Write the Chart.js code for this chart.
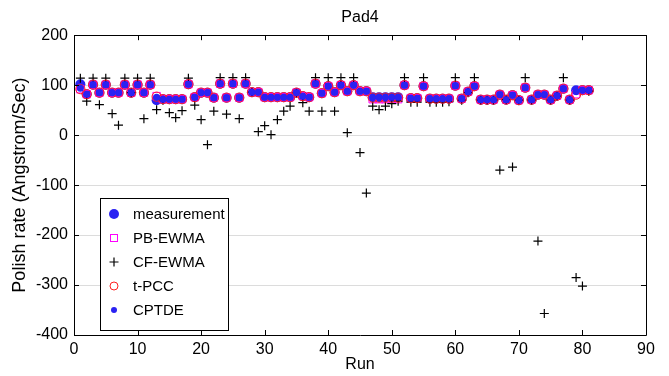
<!DOCTYPE html>
<html><head><meta charset="utf-8">
<script src="https://cdn.jsdelivr.net/npm/chart.js@4.4.0/dist/chart.umd.min.js"></script>
<style>html,body{margin:0;padding:0;background:#fff;}#wrap{width:669px;height:376px;position:relative;}</style>
</head><body><div id="wrap"><canvas id="c" width="669" height="376"></canvas></div>
<script>
const runs = [1,2,3,4,5,6,7,8,9,10,11,12,13,14,15,16,17,18,19,20,21,22,23,24,25,26,27,28,29,30,31,32,33,34,35,36,37,38,39,40,41,42,43,44,45,46,47,48,49,50,51,52,53,54,55,56,57,58,59,60,61,62,63,64,65,66,67,68,69,70,71,72,73,74,75,76,77,78,79,80,81];
const measurement = [102,82,101,85,101,85,85,101,85,101,85,101,70,72,72,72,72,102,76,85,85,75,103,75,103,75,103,86,86,76,76,76,76,76,85,78,76,103,84,98,86,100,88,100,88,88,76,76,76,76,76,100,74,74,98,73,73,73,73,99,73,87,98,71,71,71,81,71,80,70,95,71,81,81,71,79,93,71,90,90,90];
const pbEwma = [92,82,101,85,101,85,85,101,85,101,85,101,78,72,72,72,72,102,76,85,85,75,103,75,103,75,103,86,86,76,76,76,76,76,85,78,76,103,84,98,86,100,88,100,88,88,72,72,72,72,72,100,74,74,98,73,73,73,73,99,73,87,98,71,71,71,81,71,80,70,95,71,81,81,71,79,93,71,82,90,90];
const cfEwma = [114,68,114,61,114,43,20,114,85,114,33,114,51,70,45,35,49,114,60,31,-19,48,115,42,115,33,115,86,7,19,1,31,48,58,84,65,48,115,48,115,48,115,5,115,-35,-116,58,51,58,63,68,115,66,66,115,66,66,66,67,115,70,85,115,70,70,70,-70,71,-64,70,115,70,-212,-357,70,78,115,70,-285,-302,88];
const tPcc = [92,82,101,85,101,85,85,101,85,101,85,101,77,72,72,72,72,102,76,85,85,75,103,75,103,75,103,86,86,76,76,76,76,76,85,78,76,103,84,98,86,100,88,100,88,88,75,75,75,75,75,100,74,74,98,73,73,73,73,99,73,87,98,71,71,71,81,71,80,70,95,71,81,81,71,79,93,71,81,90,90];
const cptde = [94,82,101,85,101,85,85,101,85,101,85,101,76,72,72,72,72,102,76,85,85,75,103,75,103,75,103,86,86,76,76,76,76,76,85,78,76,103,84,98,86,100,88,100,88,88,76,76,76,76,76,100,74,74,98,73,73,73,73,99,73,87,98,71,71,71,81,71,80,70,95,71,81,81,71,79,93,71,88,90,90];
const xTicks = [0,10,20,30,40,50,60,70,80,90];
const yTicks = [200,100,0,-100,-200,-300,-400];
const seriesNames = ['measurement','PB-EWMA','CF-EWMA','t-PCC','CPTDE'];

const FONT = 'Liberation Sans, Arial, Helvetica, sans-serif';
function pts(vals){ return vals.map((v,i)=>({x: runs[i], y: v})); }

const BLUE = '#2a22f2', MAG = '#ff00ff', RED = '#ff2020';

const framePlugin = {
  id: 'frame',
  afterDraw(chart){
    const ctx = chart.ctx, a = chart.chartArea;
    const xs = chart.scales.x, ys = chart.scales.y;
    ctx.save();
    ctx.strokeStyle = '#000'; ctx.lineWidth = 1;
    ctx.beginPath();
    ctx.rect(Math.round(a.left)+0.5, Math.round(a.top)+0.5, Math.round(a.right-a.left), Math.round(a.bottom-a.top));
    ctx.stroke();
    const tl = 5;
    ctx.beginPath();
    xTicks.forEach(v=>{
      const px = Math.round(xs.getPixelForValue(v))+0.5;
      ctx.moveTo(px, a.bottom); ctx.lineTo(px, a.bottom-tl);
      ctx.moveTo(px, a.top); ctx.lineTo(px, a.top+tl);
    });
    yTicks.forEach(v=>{
      const py = Math.round(ys.getPixelForValue(v))+0.5;
      ctx.moveTo(a.left, py); ctx.lineTo(a.left+tl, py);
      ctx.moveTo(a.right, py); ctx.lineTo(a.right-tl, py);
    });
    ctx.stroke();
    ctx.restore();
  }
};

function drawMarker(ctx, kind, x, y){
  ctx.save();
  if (kind===0){ ctx.fillStyle=BLUE; ctx.beginPath(); ctx.arc(x,y,5,0,Math.PI*2); ctx.fill(); }
  else if (kind===1){ ctx.strokeStyle=MAG; ctx.lineWidth=1; ctx.strokeRect(x-3.5,y-3.5,7,7); }
  else if (kind===2){ ctx.strokeStyle='#000'; ctx.lineWidth=1.2; ctx.beginPath(); ctx.moveTo(x-4.5,y); ctx.lineTo(x+4.5,y); ctx.moveTo(x,y-4.5); ctx.lineTo(x,y+4.5); ctx.stroke(); }
  else if (kind===3){ ctx.strokeStyle=RED; ctx.lineWidth=1; ctx.beginPath(); ctx.arc(x,y,4,0,Math.PI*2); ctx.stroke(); }
  else { ctx.fillStyle=BLUE; ctx.beginPath(); ctx.arc(x,y,3,0,Math.PI*2); ctx.fill(); }
  ctx.restore();
}

const legendPlugin = {
  id: 'boxLegend',
  afterDraw(chart){
    const ctx = chart.ctx;
    const bx = 100.5, by = 198.5, bw = 128, bh = 132;
    ctx.save();
    ctx.fillStyle = '#fff'; ctx.fillRect(bx, by, bw, bh);
    ctx.strokeStyle = '#000'; ctx.lineWidth = 1; ctx.strokeRect(bx, by, bw, bh);
    ctx.font = '15px ' + FONT; ctx.fillStyle = '#000'; ctx.textBaseline = 'middle'; ctx.textAlign = 'left';
    seriesNames.forEach((n,i)=>{
      const cy = 214 + i*24;
      drawMarker(ctx, i, 114, cy);
      ctx.fillText(n, 133, cy+1);
    });
    ctx.restore();
  }
};

new Chart(document.getElementById('c'), {
  type: 'scatter',
  data: {
    datasets: [
      { label: seriesNames[0], data: pts(measurement), order: 5, pointStyle: 'circle', pointRadius: 5, backgroundColor: BLUE, borderColor: BLUE, borderWidth: 0 },
      { label: seriesNames[1], data: pts(pbEwma), order: 4, pointStyle: 'rect', pointRadius: 5.3, backgroundColor: 'rgba(0,0,0,0)', borderColor: MAG, borderWidth: 1 },
      { label: seriesNames[2], data: pts(cfEwma), order: 3, pointStyle: 'cross', pointRadius: 4.5, backgroundColor: '#000', borderColor: '#000', borderWidth: 1.2 },
      { label: seriesNames[3], data: pts(tPcc), order: 2, pointStyle: 'circle', pointRadius: 4.6, backgroundColor: 'rgba(0,0,0,0)', borderColor: RED, borderWidth: 1 },
      { label: seriesNames[4], data: pts(cptde), order: 1, pointStyle: 'circle', pointRadius: 3.5, backgroundColor: BLUE, borderColor: BLUE, borderWidth: 0 }
    ]
  },
  options: {
    responsive: false, animation: false, devicePixelRatio: 1,
    layout: { padding: { left: 0, right: 23, top: 0, bottom: 0 } },
    plugins: {
      legend: { display: false },
      tooltip: { enabled: false },
      title: { display: true, text: 'Pad4', fullSize: false, color: '#000', font: { family: FONT, size: 16, weight: 'normal' }, padding: { top: 8, bottom: 8 } }
    },
    scales: {
      x: {
        type: 'linear', min: 0, max: 90,
        afterBuildTicks: s => { s.ticks = xTicks.map(v=>({value:v})); },
        afterFit: s => { s.height = 41; },
        ticks: { color: '#000', font: { family: FONT, size: 16 }, padding: 5, maxRotation: 0 },
        grid: { display: false, drawTicks: false },
        border: { display: false },
        title: { display: true, text: 'Run', color: '#000', font: { family: FONT, size: 16 }, padding: { top: 0, bottom: 2 } }
      },
      y: {
        type: 'linear', min: -400, max: 200,
        afterBuildTicks: s => { s.ticks = yTicks.map(v=>({value:v})); },
        afterFit: s => { s.width = 74; },
        ticks: { color: '#000', font: { family: FONT, size: 16 }, padding: 6 },
        grid: { display: true, color: '#dcdcdc', lineWidth: 1, drawTicks: false },
        border: { display: false },
        title: { display: true, text: 'Polish rate (Angstrom/Sec)', color: '#000', font: { family: FONT, size: 18 }, padding: { top: 9, bottom: 0 } }
      }
    }
  },
  plugins: [framePlugin, legendPlugin]
});
</script>
</body></html>
